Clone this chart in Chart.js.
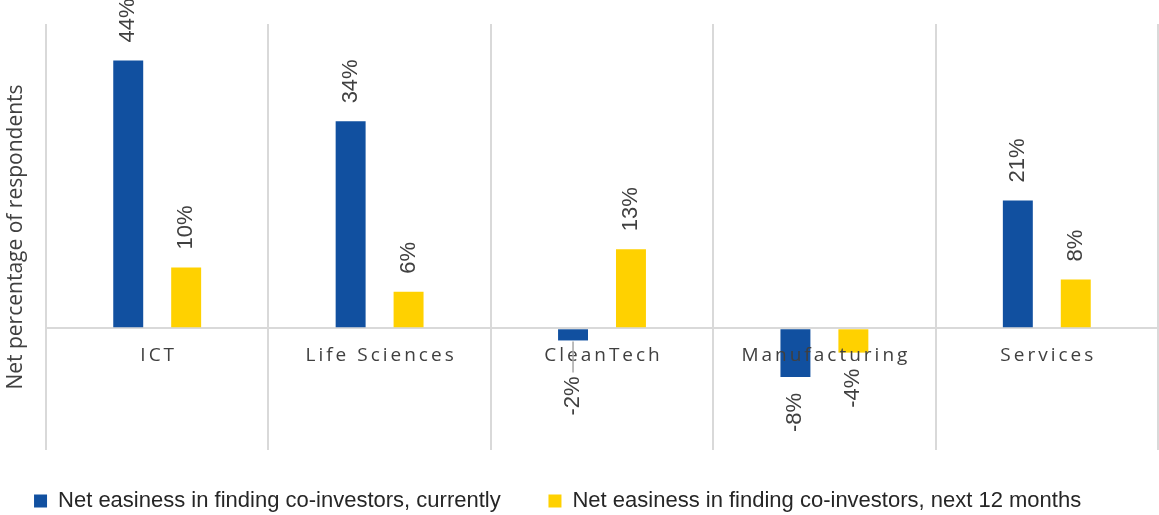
<!DOCTYPE html>
<html><head><meta charset="utf-8">
<script src="https://cdn.jsdelivr.net/npm/chart.js@4.4.1/dist/chart.umd.min.js"></script>
<style>html,body{margin:0;padding:0;background:#fff}#wrap{width:1159px;height:515px}</style>
</head><body><div id="wrap"><canvas id="c" width="1159" height="515"></canvas></div>
<script>
const categories = ['ICT', 'Life Sciences', 'CleanTech', 'Manufacturing', 'Services'];
const currentValues = [44, 34, -2, -8, 21];
const next12Values = [10, 6, 13, -4, 8];
const seriesNames = ['Net easiness in finding co-investors, currently', 'Net easiness in finding co-investors, next 12 months'];
const yMin = -20, yMax = 50, yStep = 10;
const yTitle = 'Net percentage of respondents';

const labelPlugin = {
  id: 'barLabels',
  afterDatasetsDraw(chart, args, opts) {
    const ctx = chart.ctx;
    const xs = chart.scales.x, ys = chart.scales.y;
    const y0 = ys.getPixelForValue(0);
    ctx.save();
    ctx.font = '19px "Open Sans"';
    ctx.letterSpacing = '3px';
    ctx.fillStyle = '#404040';
    ctx.textAlign = 'center';
    ctx.textBaseline = 'middle';
    chart.data.labels.forEach((c, i) => ctx.fillText(c, xs.getPixelForValue(i) + 1.5, y0 + 27));
    ctx.letterSpacing = '0px';
    ctx.font = '22px "Liberation Sans"';
    chart.data.datasets.forEach((ds, di) => {
      const meta = chart.getDatasetMeta(di);
      meta.data.forEach((bar, i) => {
        const v = ds.data[i];
        const shift = ((opts.shifts || {})[di + '-' + i]) || 0;
        ctx.save();
        if (shift) {
          ctx.strokeStyle = '#a6a6a6'; ctx.lineWidth = 1.5;
          ctx.beginPath();
          ctx.moveTo(bar.x, bar.y + (v < 0 ? 1 : -1));
          ctx.lineTo(bar.x, bar.y + (v < 0 ? 1 : -1) * (shift + 12));
          ctx.stroke();
        }
        if (v >= 0) {
          ctx.translate(bar.x, bar.y - 18 - shift);
          ctx.rotate(-Math.PI / 2);
          ctx.textAlign = 'left';
        } else {
          ctx.translate(bar.x, bar.y + 16 + shift);
          ctx.rotate(-Math.PI / 2);
          ctx.textAlign = 'right';
        }
        ctx.textBaseline = 'middle';
        ctx.fillStyle = '#404040';
        ctx.fillText(v + '%', 0, 0);
        ctx.restore();
      });
    });
    ctx.restore();
  }
};

const legendGap = '       ';

new Chart(document.getElementById('c'), {
  type: 'bar',
  data: {
    labels: categories,
    datasets: [
      { label: seriesNames[0], data: currentValues, backgroundColor: '#1150A0', barPercentage: 0.517, categoryPercentage: 0.521 },
      { label: seriesNames[1], data: next12Values, backgroundColor: '#FFD100', barPercentage: 0.517, categoryPercentage: 0.521 }
    ]
  },
  options: {
    responsive: false,
    animation: false,
    devicePixelRatio: 1,
    layout: { padding: { top: 24, right: 1, left: 0, bottom: -7 } },
    scales: {
      x: {
        offset: true,
        ticks: { display: false },
        grid: { offset: true, color: '#d9d9d9', lineWidth: 2, drawTicks: false },
        border: { display: false },
        afterFit(s) { s.height = 35; }
      },
      y: {
        min: yMin, max: yMax,
        ticks: { display: false, stepSize: yStep },
        grid: { color: c => (c.tick && c.tick.value === 0) ? '#d9d9d9' : 'rgba(0,0,0,0)', lineWidth: 2, drawTicks: false },
        border: { display: false },
        title: { display: true, text: yTitle, font: { family: 'Open Sans', size: 21 }, color: '#404040', padding: { top: 3, bottom: 0 } },
        afterFit(s) { s.width = 46; }
      }
    },
    plugins: {
      legend: {
        position: 'bottom',
        labels: {
          boxWidth: 13, boxHeight: 13, padding: 5,
          font: { family: 'Liberation Sans', size: 22 }, color: '#262626',
          generateLabels(chart) {
            const items = Chart.defaults.plugins.legend.labels.generateLabels(chart);
            items.forEach(it => { it.text = it.text + legendGap; });
            return items;
          }
        }
      },
      tooltip: { enabled: false },
      barLabels: { shifts: { '0-2': 20 } }
    }
  },
  plugins: [labelPlugin]
});
</script></body></html>
